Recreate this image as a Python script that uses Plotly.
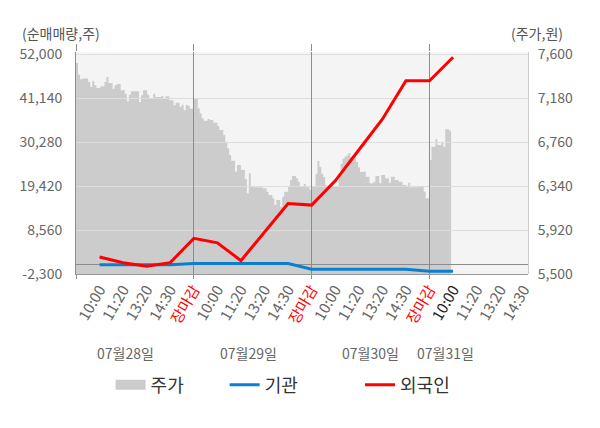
import plotly.graph_objects as go

# x축 시간 라벨 (일자별 스냅샷)
time_labels = ["10:00", "11:20", "13:20", "14:30", "장마감",
               "10:00", "11:20", "13:20", "14:30", "장마감",
               "10:00", "11:20", "13:20", "14:30", "장마감",
               "10:00", "11:20", "13:20", "14:30"]
date_labels = ["07월28일", "07월29일", "07월30일", "07월31일"]

# 순매매량 (주)
foreign = [1900, 500, -400, 500, 6500,
           5400, 1000, 8100, 15100, 14700,
           20700, 28300, 35900, 45400, 45400,
           51200]
institution = [0, 0, 0, 0, 300,
               300, 300, 300, 300, -1100,
               -1100, -1100, -1100, -1100, -1600,
               -1600]

# 주가 (원), 일자별 분봉
price_d1 = [7514, 7402, 7358, 7366, 7366, 7366, 7333, 7285, 7339, 7301,
            7275, 7275, 7292, 7292, 7333, 7380, 7323, 7323, 7269, 7301,
            7314, 7314, 7253, 7253, 7221, 7148, 7211, 7244, 7244, 7244,
            7244, 7142, 7205, 7253, 7253, 7211, 7173, 7173, 7221, 7190,
            7190, 7190, 7199, 7173, 7196, 7196, 7158, 7158, 7110, 7135,
            7135, 7094, 7116, 7062, 7113, 7105, 7078, 7078]
price_d2 = [7177, 7177, 7082, 7034, 6986, 6963, 6963, 6980, 6970, 6970,
            6944, 6944, 6913, 6874, 6874, 6827, 6763, 6700, 6636, 6581,
            6581, 6476, 6540, 6540, 6493, 6493, 6404, 6270, 6461, 6333,
            6327, 6327, 6327, 6327, 6327, 6318, 6318, 6285, 6254, 6254,
            6223, 6159, 6206, 6206, 6142, 6238, 6285, 6285, 6333, 6397,
            6435, 6435, 6413, 6381, 6333, 6333, 6359, 6327, 6327, 6302]
price_d3 = [6340, 6340, 6457, 6578, 6521, 6457, 6426, 6346, 6340, 6340,
            6340, 6340, 6340, 6340, 6457, 6552, 6600, 6620, 6632, 6654,
            6616, 6625, 6632, 6568, 6520, 6474, 6476, 6476, 6429, 6429,
            6366, 6366, 6381, 6435, 6435, 6366, 6445, 6445, 6413, 6413,
            6371, 6429, 6429, 6397, 6397, 6381, 6381, 6350, 6350, 6333,
            6371, 6328, 6328, 6328, 6328, 6328, 6333, 6333, 6286, 6223,
            6223]
price_d4 = [6588, 6715, 6715, 6786, 6731, 6731, 6763, 6715, 6881, 6881, 6868]

left_ticks = [-2300, 8560, 19420, 30280, 41140, 52000]
right_ticks = [5500, 5920, 6340, 6760, 7180, 7600]

# 일자 경계(장마감) 위치
closes = [i for i, t in enumerate(time_labels) if t == "장마감"]
day_starts = [-1] + closes
x_range = [-1, 18.18]

# 분봉 x 위치: 각 일자 구간(5칸)에 균등 배치
px, py = [], []
for k, day in enumerate([price_d1, price_d2, price_d3, price_d4]):
    step = 5 / (len(day) if k < 3 else 60)
    for i, v in enumerate(day):
        px.append(day_starts[k] + i * step)
        py.append(v)
    px.append(day_starts[k] + len(day) * step)
    py.append(day[-1])

tick_text = []
for i, t in enumerate(time_labels):
    if t == "장마감":
        tick_text.append("<span style='color:#ff0000'>" + t + "</span>")
    elif i == 15:
        tick_text.append("<span style='color:#222222'>" + t + "</span>")
    else:
        tick_text.append(t)

font = "Noto Sans CJK KR"

fig = go.Figure()
# 주가 영역 (아래쪽 서브플롯)
fig.add_trace(go.Scatter(
    x=px, y=py, mode="lines", line=dict(width=0, color="#cccccc", shape="hv"),
    fill="tozeroy", fillcolor="#cccccc", name="주가",
    xaxis="x", yaxis="y", showlegend=False
))
# 범례 전용 (주가 상자)
fig.add_trace(go.Scatter(
    x=[None], y=[None], mode="lines", line=dict(width=14, color="#cccccc"),
    name="주가", xaxis="x", yaxis="y", legend="legend", showlegend=True
))
# 순매매량 (위쪽 서브플롯, 그리드가 주가 위로 그려짐)
fig.add_trace(go.Scatter(
    x=list(range(len(institution))), y=institution, mode="lines",
    line=dict(color="#0a7fcf", width=3), name="기관",
    xaxis="x2", yaxis="y2", legend="legend2", showlegend=True
))
fig.add_trace(go.Scatter(
    x=list(range(len(foreign))), y=foreign, mode="lines",
    line=dict(color="#ff0000", width=3), name="외국인",
    xaxis="x3", yaxis="y2", legend="legend3", showlegend=True
))

annotations = [
    dict(text="(순매매량,주)", xref="paper", yref="paper", x=-0.034, y=1.086,
         xanchor="center", yanchor="middle", showarrow=False,
         font=dict(size=14, color="#555555")),
    dict(text="(주가,원)", xref="paper", yref="paper", x=1.02, y=1.086,
         xanchor="center", yanchor="middle", showarrow=False,
         font=dict(size=14, color="#555555")),
]
date_pos = [1.1, 6.3, 11.5, 14.7]
for d, xp in zip(date_labels, date_pos):
    annotations.append(dict(text=d, xref="x2", yref="paper", x=xp, y=-0.356,
                            xanchor="center", yanchor="middle", showarrow=False,
                            font=dict(size=14, color="#666666")))

leg = dict(orientation="h", yanchor="middle", y=-0.5, xanchor="left",
           bgcolor="rgba(0,0,0,0)", font=dict(size=18, color="#333333", family=font))

# 페이지 기본 여백(8px)을 감안한 크기
fig.update_layout(
    width=592, height=420,
    margin=dict(l=68, r=72, t=44, b=154),
    paper_bgcolor="white", plot_bgcolor="rgba(0,0,0,0)",
    font=dict(family=font, size=14, color="#666666"),
    showlegend=True,
    shapes=[dict(type="rect", xref="paper", yref="paper", x0=0, x1=1, y0=0, y1=1,
                 fillcolor="#f4f4f4", line=dict(width=0), layer="below")],
    # 주가 서브플롯: 장마감 아래 눈금 + 오른쪽 축
    xaxis=dict(domain=[0, 1], range=x_range, tickvals=day_starts, showticklabels=False,
               ticks="outside", ticklen=4, tickcolor="#8c8c8c", showgrid=False,
               zeroline=False, automargin=False),
    yaxis=dict(domain=[0, 1], anchor="x", side="right", range=[5500, 7619],
               tickvals=right_ticks, ticktext=[f"{v:,}" for v in right_ticks],
               showgrid=False, zeroline=False, ticks="", ticklabelstandoff=6,
               showline=True, linecolor="#cccccc", automargin=False),
    # 순매매량 서브플롯: 시간 라벨 + 왼쪽 축 + 수평 그리드
    xaxis2=dict(domain=[0, 1], anchor="y2", range=x_range,
                tickvals=list(range(len(time_labels))), ticktext=tick_text,
                tickangle=-60, showgrid=False, zeroline=False, ticks="",
                showline=True, linecolor="#999999",
                tickfont=dict(size=15, color="#666666"), automargin=False),
    yaxis2=dict(domain=[0, 1], anchor="x2", side="left", range=[-2300, 52494],
                tickvals=left_ticks, ticktext=[f"{v:,}" for v in left_ticks],
                showgrid=True, gridcolor="#dddddd", gridwidth=1,
                zeroline=True, zerolinecolor="#8c8c8c", zerolinewidth=1,
                ticks="", ticklabelstandoff=10,
                showline=True, linecolor="#8c8c8c", automargin=False),
    # 장마감 세로선 (위쪽 눈금 포함)
    xaxis3=dict(overlaying="x2", anchor="y2", side="top", range=x_range,
                tickvals=day_starts, showticklabels=False, ticks="outside", ticklen=7,
                tickcolor="#8c8c8c", showgrid=True, gridcolor="#8c8c8c", gridwidth=1,
                zeroline=False, automargin=False),
    legend=dict(leg, x=(110 - 76) / 444),
    legend2=dict(leg, x=(222 - 76) / 444),
    legend3=dict(leg, x=(355 - 76) / 444),
    annotations=annotations,
)

fig.write_html("out.html")
